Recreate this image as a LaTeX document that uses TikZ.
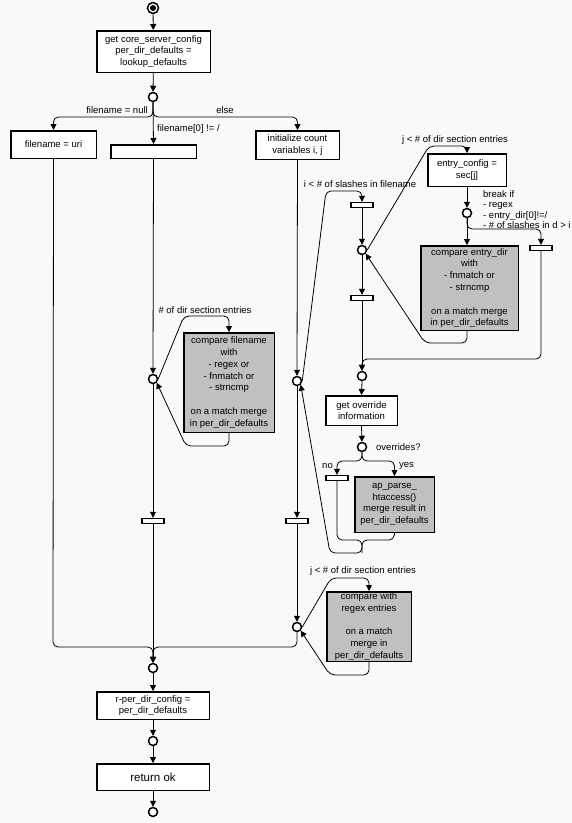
\documentclass[tikz,border=0pt]{standalone}
\usepackage{fontspec}
\setmainfont{Liberation Sans}
\usetikzlibrary{arrows.meta}
\definecolor{boxgray}{RGB}{192,192,192}
\definecolor{bgc}{RGB}{249,249,249}
\begin{document}
\begin{tikzpicture}[x=1pt,y=-1pt,
  box/.style={draw, line width=1.5pt, fill=white, inner sep=0pt, align=center, font=\fontsize{9.5}{11.8}\selectfont},
  gbox/.style={box, fill=boxgray},
  st/.style={draw, circle, line width=1.5pt, minimum size=9pt, inner sep=0pt, fill=white},
  bar/.style={draw, line width=1.4pt, minimum width=22pt, minimum height=5pt, inner sep=0pt, fill=white},
  conn/.style={line width=0.8pt, rounded corners=5pt},
  arr/.style={conn, -{Triangle[length=6pt,width=6pt]}},
  lbl/.style={font=\fontsize{9.5}{10.5}\selectfont, inner sep=0pt, align=left}
]
\fill[bgc] (0,0) rectangle (572,823);
\useasboundingbox (0,0) rectangle (572,823);

% ---- main column
\node[st, minimum size=11pt] (s0) at (153,8) {};
\fill (s0.center) circle (3);
\node[box, minimum width=113.5pt, minimum height=41.5pt] (b1) at (153.5,51.5)
  {get core\_server\_config\\per\_dir\_defaults =\\lookup\_defaults};
\node[st] (c1) at (153,97) {};
\node[box, minimum width=85.5pt, minimum height=27.5pt] (b2) at (53.5,144.5) {filename = uri};
\node[box, minimum width=85.5pt, minimum height=13.5pt] (b3) at (153.5,151.5) {};
\node[box, minimum width=83.5pt, minimum height=28.5pt] (b4) at (297.5,145) {initialize count\\variables i, j};

\node[st] (c2) at (153,379) {};
\node[gbox, minimum width=90.5pt, minimum height=99.5pt] (g1) at (229,382.5)
  {compare filename\\with\\- regex or\\- fnmatch or\\- strncmp\\[11.8pt]on a match merge\\in per\_dir\_defaults};
\node[bar] (bar1) at (153,521) {};

\node[st] (c3) at (297,381) {};
\node[bar] (bar2) at (297,521) {};
\node[st] (c4) at (297,627) {};
\node[gbox, minimum width=84.5pt, minimum height=69.5pt] (g3) at (369,626.5)
  {compare with\\regex entries\\[11.8pt]on a match\\merge in\\per\_dir\_defaults};

\node[st] (c5) at (153,668) {};
\node[box, minimum width=112.5pt, minimum height=27.5pt] (b5) at (153,705.5) {r-per\_dir\_config =\\per\_dir\_defaults};
\node[st] (c6) at (153,741) {};
\node[box, minimum width=112.5pt, minimum height=26.5pt, font=\fontsize{11.5}{13}\selectfont] (b6) at (153,777) {return ok};
\node[st] (c7) at (153,812) {};

% ---- right part
\node[bar] (barA) at (362,205) {};
\node[st] (cA) at (362,250) {};
\node[bar] (barB) at (362,298) {};
\node[box, minimum width=78.5pt, minimum height=32.5pt] (eb) at (467,170) {entry\_config =\\sec[j]};
\node[st] (cB) at (467,213) {};
\node[gbox, minimum width=97.5pt, minimum height=84.5pt] (g2) at (469.5,288)
  {compare entry\_dir\\with\\- fnmatch or\\- strncmp\\[11.8pt]on a match merge\\in per\_dir\_defaults};
\node[bar] (barC) at (541,248) {};
\node[st] (cC) at (362,376) {};
\node[box, minimum width=71.5pt, minimum height=29.5pt] (b7) at (361.5,410.5) {get override\\information};
\node[st] (cD) at (362,447) {};
\node[bar] (barD) at (337,478) {};
\node[gbox, minimum width=79.5pt, minimum height=55.5pt] (g4) at (394.5,504.5)
  {ap\_parse\_\\htaccess()\\merge result in\\per\_dir\_defaults};

% ---- labels
\node[lbl, anchor=east] (l1) at (148,110) {filename = null};
\node[lbl] (l2) at (225,110) {else};
\node[lbl, anchor=west] (l3) at (157,129) {filename[0] != /};
\node[lbl] (l4) at (205,310) {\# of dir section entries};
\node[lbl] (l5) at (360,184) {i < \# of slashes in filename};
\node[lbl] (l6) at (455,140) {j < \# of dir section entries};
\node[lbl, anchor=north west] (l7) at (483,190) {break if\\- regex\\- entry\_dir[0]!=/\\- \# of slashes in d > i};
\node[lbl, anchor=west] (l8) at (376,447) {overrides?};
\node[lbl, anchor=east] (l9) at (333,466) {no};
\node[lbl, anchor=west] (l10) at (399,466) {yes};
\node[lbl] (l11) at (363,571) {j < \# of dir section entries};

% ---- connectors main
\draw[arr] (s0) -- (b1);
\draw[arr] (b1) -- (c1);
\draw[arr] (c1.south) -- (153,117) -| (b2.north);
\draw[arr] (c1.south) -- (153,117) -| (b4.north);
\draw[arr] (c1.south) -- (b3.north);
\draw[arr] (b3.south) -- (c2.north);
\draw[arr] (c2.south) -- (bar1.north);
\draw[arr] (bar1.south) -- (c5.north);
\draw[arr] (b2.south) -- (53,647) -- (153,647) -- (c5.north);
\draw[arr] (c4.south) -- (297,647) -- (153,647) -- (c5.north);
\draw[arr] (c2.east) -- (184,316) -- (229,316) -- (g1.north);
\draw[arr] (g1.south) -- (229,446) -- (186,446) -- (c2.south east);

\draw[arr] (b4.south) -- (c3.north);
\draw[arr] (c3.south) -- (bar2.north);
\draw[arr] (bar2.south) -- (c4.north);
\draw[arr] (c3.east) -- (326,191) -- (362,191) -- (barA.north);
\draw[arr] (c4.east) -- (331,578) -- (369,578) -- (g3.north);
\draw[arr] (g3.south) -- (369,675) -- (330,675) -- (c4.south east);

\draw[arr] (c5) -- (b5);
\draw[arr] (b5) -- (c6);
\draw[arr] (c6) -- (b6);
\draw[arr] (b6) -- (c7);

% ---- connectors right
\draw[arr] (barA.south) -- (cA.north);
\draw[arr] (cA.south) -- (barB.north);
\draw[arr] (barB.south) -- (cC.north);
\draw[arr] (barC.south) -- (541,359) -- (362,359) -- (cC.north);
\draw[arr] (cA.east) -- (429,146) -- (467,146) -- (eb.north);
\draw[arr] (eb.south) -- (cB.north);
\draw[arr] (cB.south) -- (g2.north -| cB.south);
\draw[arr] (cB.south) -- (467,229) -- (541,229) -- (barC.north);
\draw[arr] (g2.south -| cB.south) -- (467,343) -- (425,343) -- (cA.south east);

\draw[arr] (cC.south) -- (b7.north);
\draw[arr] (b7.south) -- (cD.north);
\draw[arr] (cD.south) -- (362,461) -| (barD.north);
\draw[arr] (cD.south) -- (362,461) -| (g4.north);
\draw[arr] (barD.south) -- (337,540) -- (362,540) -- (362,553) -- (330,553) -- (c3.south east);
\draw[conn] (g4.south) -- (394,540) -- (362,540) -- (362,553);
\end{tikzpicture}
\end{document}
